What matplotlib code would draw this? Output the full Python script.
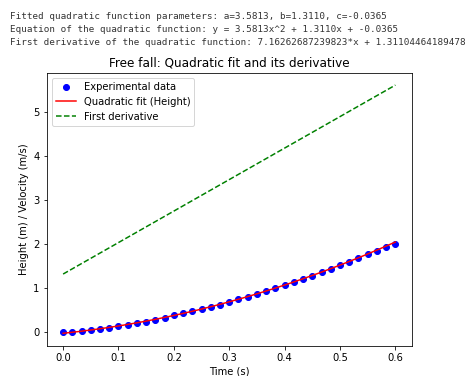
import numpy as np
import matplotlib.pyplot as plt

time = [0.0, 0.0167, 0.0333, 0.05, 0.0667, 0.0833, 0.1, 0.1167, 0.1333, 0.15,
        0.1667, 0.1833, 0.2, 0.2167, 0.2333, 0.25, 0.2667, 0.2833, 0.3, 0.3167,
        0.3333, 0.35, 0.3667, 0.3833, 0.4, 0.4167, 0.4333, 0.45, 0.4667, 0.4833,
        0.5, 0.5167, 0.5333, 0.55, 0.5667, 0.5833, 0.6]
height = [0.00, 0.00, 0.02, 0.04, 0.06, 0.09, 0.12, 0.16, 0.20, 0.23,
          0.27, 0.32, 0.37, 0.42, 0.46, 0.51, 0.56, 0.61, 0.68, 0.74,
          0.80, 0.86, 0.93, 0.99, 1.06, 1.12, 1.20, 1.27, 1.35, 1.43,
          1.51, 1.58, 1.67, 1.76, 1.84, 1.93, 1.99]

# fitted parameters printed above the chart
a, b, c = 3.5813, 1.3110, -0.0365
da, db = 7.16262687239823, 1.31104464189478

t = np.array(time)
t_fine = np.linspace(0, 0.6, 200)

DPI = 72
fig = plt.figure(figsize=(470 / DPI, 376 / DPI), dpi=DPI)

# notebook print output shown above the figure
lines = [
    "Fitted quadratic function parameters: a=3.5813, b=1.3110, c=-0.0365",
    "Equation of the quadratic function: y = 3.5813x^2 + 1.3110x + -0.0365",
    "First derivative of the quadratic function: 7.16262687239823*x + 1.31104464189478",
]
for i, s in enumerate(lines):
    fig.text(10 / 470, 1 - (16.5 + i * 12.8) / 376, s, family='DejaVu Sans Mono',
             fontsize=9.2, color='#333333', va='center', ha='left')

ax = fig.add_axes([46.5 / 470, 1 - 345.7 / 376, (412 - 46.5) / 470, (345.7 - 72.7) / 376])
ax.scatter(t, height, color='blue', label='Experimental data')
ax.plot(t_fine, a * t_fine**2 + b * t_fine + c, 'r-', label='Quadratic fit (Height)')
ax.plot(t_fine, da * t_fine + db, 'g--', label='First derivative')
ax.set_title('Free fall: Quadratic fit and its derivative')
ax.set_xlabel('Time (s)')
ax.set_ylabel('Height (m) / Velocity (m/s)')
ax.legend(loc='upper left')

fig.savefig('out.png', dpi=DPI)
